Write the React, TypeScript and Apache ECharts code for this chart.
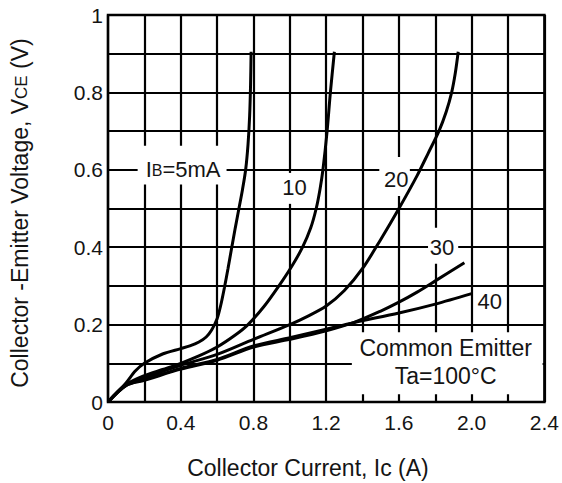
import React, { useEffect, useRef } from 'react';
import * as echarts from 'echarts';

// ---- data (Ic in A, Vce in V) ----
const ib5: [number, number][] = [
  [0, 0], [0.05, 0.025], [0.1, 0.05], [0.15, 0.08], [0.2, 0.1], [0.3, 0.124], [0.4, 0.138],
  [0.45, 0.145], [0.5, 0.155], [0.54, 0.168], [0.57, 0.186], [0.6, 0.215], [0.62, 0.25],
  [0.64, 0.295], [0.66, 0.345], [0.68, 0.398], [0.7, 0.45], [0.72, 0.5], [0.74, 0.55],
  [0.757, 0.6], [0.77, 0.665], [0.779, 0.74], [0.784, 0.82], [0.787, 0.905],
];
const ib10: [number, number][] = [
  [0, 0], [0.1, 0.045], [0.2, 0.068], [0.3, 0.084], [0.4, 0.1], [0.5, 0.119], [0.6, 0.142],
  [0.7, 0.173], [0.77, 0.2], [0.86, 0.248], [0.94, 0.3], [1.01, 0.35], [1.07, 0.4],
  [1.115, 0.45], [1.145, 0.5], [1.166, 0.55], [1.182, 0.6], [1.205, 0.7], [1.223, 0.8],
  [1.245, 0.905],
];
const ib20: [number, number][] = [
  [0, 0], [0.1, 0.045], [0.2, 0.063], [0.4, 0.095], [0.6, 0.123], [0.8, 0.162], [1.0, 0.2],
  [1.1, 0.222], [1.2, 0.248], [1.3, 0.288], [1.4, 0.345], [1.5, 0.42], [1.6, 0.5],
  [1.7, 0.585], [1.76, 0.642], [1.82, 0.7], [1.86, 0.75], [1.89, 0.8], [1.91, 0.85],
  [1.926, 0.905],
];
const ib30: [number, number][] = [
  [0, 0], [0.1, 0.043], [0.2, 0.056], [0.4, 0.085], [0.6, 0.108], [0.8, 0.142], [1.0, 0.162],
  [1.2, 0.184], [1.35, 0.205], [1.5, 0.235], [1.6, 0.258], [1.7, 0.284], [1.8, 0.313],
  [1.96, 0.36],
];
const ib40: [number, number][] = [
  [0, 0], [0.1, 0.043], [0.2, 0.058], [0.4, 0.087], [0.6, 0.11], [0.8, 0.145], [1.0, 0.166],
  [1.2, 0.188], [1.35, 0.205], [1.6, 0.23], [1.8, 0.253], [2.0, 0.28],
];
const seriesNames = ['5', '10', '20', '30', '40'];
const seriesData = [ib5, ib10, ib20, ib30, ib40];

// curve labels: text, anchor [x, y], white box [x0, y0, x1, y1] in data units (or null)
const labelTexts = ['I{s|B}=5mA', '10', '20', '30', '40'];
const labelAnchors: [number, number][] = [[0.413, 0.6], [1.026, 0.555], [1.585, 0.575], [1.837, 0.398], [2.1, 0.26]];
const labelBoxes: ([number, number, number, number] | null)[] = [
  [0.163, 0.562, 0.652, 0.662],
  [0.942, 0.512, 1.116, 0.592],
  [1.492, 0.532, 1.66, 0.633],
  [1.76, 0.357, 1.926, 0.45],
  null,
];
const noteLines = ['Common Emitter', 'Ta=100°C'];
const noteAnchors: [number, number][] = [[1.857, 0.14], [1.857, 0.067]];
const noteBox: [number, number, number, number] = [1.341, 0.02, 2.39, 0.18];

const xTitle = 'Collector Current, Ic (A)';
const yTitle = 'Collector -Emitter Voltage, V{s|CE} (V)';

const FONT = "'Liberation Sans', Arial, sans-serif";
const INK = '#141414';

export default function App() {
  const ref = useRef<HTMLDivElement>(null);
  useEffect(() => {
    document.body.style.margin = '0';
    if (!ref.current) return;
    const chart = echarts.init(ref.current, undefined, { renderer: 'svg' });
    chart.setOption({
      animation: false,
      backgroundColor: '#fff',
      grid: { left: 108, right: 12, top: 15, bottom: 81, show: true, borderColor: '#000', borderWidth: 2.5, backgroundColor: 'transparent' },
      xAxis: {
        type: 'value', min: 0, max: 2.4, interval: 0.2,
        axisLine: { show: false }, axisTick: { show: false },
        splitLine: { show: true, lineStyle: { color: '#000', width: 2.2 } },
        axisLabel: {
          margin: 10, color: INK, fontSize: 21, fontFamily: FONT,
          formatter: (v: number) => {
            const k = Math.round(v * 10);
            if (k % 4 !== 0) return '';
            return k === 0 ? '0' : (k / 10).toFixed(1);
          },
        },
      },
      yAxis: {
        type: 'value', min: 0, max: 1, interval: 0.1,
        axisLine: { show: false }, axisTick: { show: false },
        splitLine: { show: true, lineStyle: { color: '#000', width: 2.2 } },
        axisLabel: {
          margin: 5, color: INK, fontSize: 21, fontFamily: FONT,
          formatter: (v: number) => {
            const k = Math.round(v * 10);
            if (k % 2 !== 0) return '';
            if (k === 0) return '0';
            if (k === 10) return '1';
            return (k / 10).toFixed(1);
          },
        },
      },
      series: seriesData.map((d, i) => ({
        name: seriesNames[i], type: 'line', data: d, smooth: 0.3, showSymbol: false, z: 10,
        lineStyle: { color: '#000', width: 3 }, silent: true,
      })),
    });

    const px = (p: [number, number]) => chart.convertToPixel({ gridIndex: 0 }, p) as number[];
    const graphics: any[] = [];
    const boxRect = (b: [number, number, number, number]) => {
      const a = px([b[0], b[3]]);
      const c = px([b[2], b[1]]);
      return { type: 'rect', z: 5, shape: { x: a[0], y: a[1], width: c[0] - a[0], height: c[1] - a[1] }, style: { fill: '#fff' } };
    };
    labelTexts.forEach((t, i) => {
      const b = labelBoxes[i];
      if (b) graphics.push(boxRect(b));
      const p = px(labelAnchors[i]);
      graphics.push({
        type: 'text', z: 20, x: p[0], y: p[1],
        style: {
          text: t, align: 'center', verticalAlign: 'middle', fill: INK, fontSize: 22, fontFamily: FONT,
          rich: { s: { fontSize: 16, fontFamily: FONT, fill: INK, verticalAlign: 'bottom', padding: [0, 0, 2, 0] } },
        },
      });
    });
    graphics.push(boxRect(noteBox));
    noteLines.forEach((t, i) => {
      const p = px(noteAnchors[i]);
      graphics.push({ type: 'text', z: 20, x: p[0], y: p[1], style: { text: t, align: 'center', verticalAlign: 'middle', fill: INK, fontSize: 23, fontFamily: FONT } });
    });
    graphics.push({
      type: 'text', z: 20, x: 308, y: 468,
      style: { text: xTitle, align: 'center', verticalAlign: 'middle', fill: INK, fontSize: 23, fontFamily: FONT },
    });
    graphics.push({
      type: 'text', z: 20, x: 20, y: 213, rotation: Math.PI / 2,
      style: {
        text: yTitle, align: 'center', verticalAlign: 'middle', fill: INK, fontSize: 23, fontFamily: FONT,
        rich: { s: { fontSize: 17, fontFamily: FONT, fill: INK, verticalAlign: 'bottom', padding: [0, 0, 2, 0] } },
      },
    });
    chart.setOption({ graphic: graphics });
    return () => chart.dispose();
  }, []);
  return <div ref={ref} style={{ position: 'fixed', left: 0, top: 0, width: 562, height: 483 }} />;
}
